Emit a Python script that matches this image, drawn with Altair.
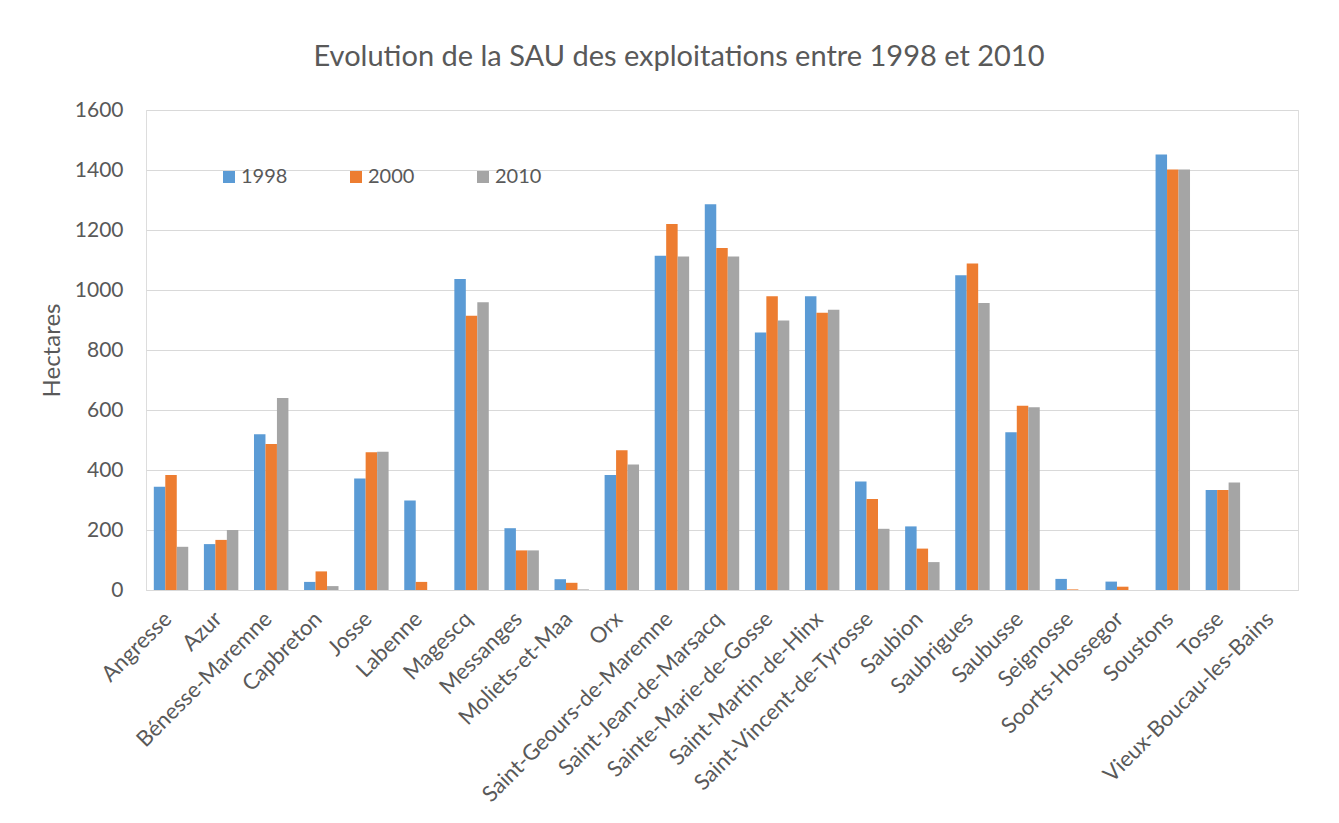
import altair as alt
import pandas as pd

communes = ["Angresse", "Azur", "Bénesse-Maremne", "Capbreton", "Josse", "Labenne",
            "Magescq", "Messanges", "Moliets-et-Maa", "Orx", "Saint-Geours-de-Maremne",
            "Saint-Jean-de-Marsacq", "Sainte-Marie-de-Gosse", "Saint-Martin-de-Hinx",
            "Saint-Vincent-de-Tyrosse", "Saubion", "Saubrigues", "Saubusse", "Seignosse",
            "Soorts-Hossegor", "Soustons", "Tosse", "Vieux-Boucau-les-Bains"]
sau_1998 = [344, 153, 519, 27, 372, 298, 1037, 206, 36, 383, 1114, 1286, 858, 979,
            362, 212, 1049, 526, 37, 28, 1452, 333, 0]
sau_2000 = [383, 167, 487, 62, 459, 27, 914, 132, 24, 466, 1220, 1140, 979, 924,
            303, 138, 1088, 614, 2, 11, 1402, 333, 0]
sau_2010 = [144, 200, 640, 13, 461, 0, 959, 132, 2, 418, 1112, 1112, 898, 934,
            204, 93, 957, 609, 0, 0, 1402, 358, 0]
years = ["1998", "2000", "2010"]
colors = ["#5B9BD5", "#ED7D31", "#A5A5A5"]
y_ticks = [0, 200, 400, 600, 800, 1000, 1200, 1400, 1600]

rows = []
for yr, vals in zip(years, [sau_1998, sau_2000, sau_2010]):
    for c, v in zip(communes, vals):
        rows.append({"Commune": c, "Année": yr, "Hectares": v})
df = pd.DataFrame(rows)

FONT = "Lato"
TXT = "#595959"

chart = alt.Chart(df).mark_bar().encode(
    x=alt.X("Commune:N", sort=communes,
            scale=alt.Scale(paddingInner=0.3125, paddingOuter=0.156),
            axis=alt.Axis(title=None, labelAngle=-45, labelFontSize=22, labelColor=TXT,
                          labelFont=FONT, ticks=False, domainColor="#D9D9D9",
                          labelBaseline="middle", labelAlign="right",
                          labelPadding=25, labelOffset=-3, labelLimit=400, grid=False)),
    xOffset=alt.XOffset("Année:N", sort=years, scale=alt.Scale(paddingInner=0, paddingOuter=0)),
    y=alt.Y("Hectares:Q", scale=alt.Scale(domain=[0, 1600], nice=False),
            axis=alt.Axis(title="Hectares", values=y_ticks, format="d",
                          labelFontSize=21, labelColor=TXT,
                          labelFont=FONT, titleFont=FONT, titleFontSize=24, titleColor=TXT,
                          titleFontWeight="normal", ticks=False, domain=False,
                          labelPadding=23, titlePadding=10, gridColor="#D9D9D9")),
    color=alt.Color("Année:N", sort=years, scale=alt.Scale(domain=years, range=colors),
                    legend=alt.Legend(title=None, orient="none", legendX=73, legendY=57,
                                      direction="horizontal", symbolType="square",
                                      symbolSize=144, symbolStrokeWidth=0,
                                      labelFontSize=20, labelFont=FONT, labelColor=TXT,
                                      columnPadding=58, labelOffset=2)),
).properties(
    width=1152, height=480,
    title=alt.TitleParams("Evolution de la SAU des exploitations entre 1998 et 2010",
                          font=FONT, fontSize=29, fontWeight="normal", color=TXT,
                          offset=27, dx=-43, anchor="middle"),
    autosize=alt.AutoSizeParams(type="none"),
    padding={"left": 138, "top": 102, "right": 33, "bottom": 225},
).configure_view(stroke=None).configure(background="white")

chart.save("out.html", embed_options={"renderer": "svg", "actions": False})
